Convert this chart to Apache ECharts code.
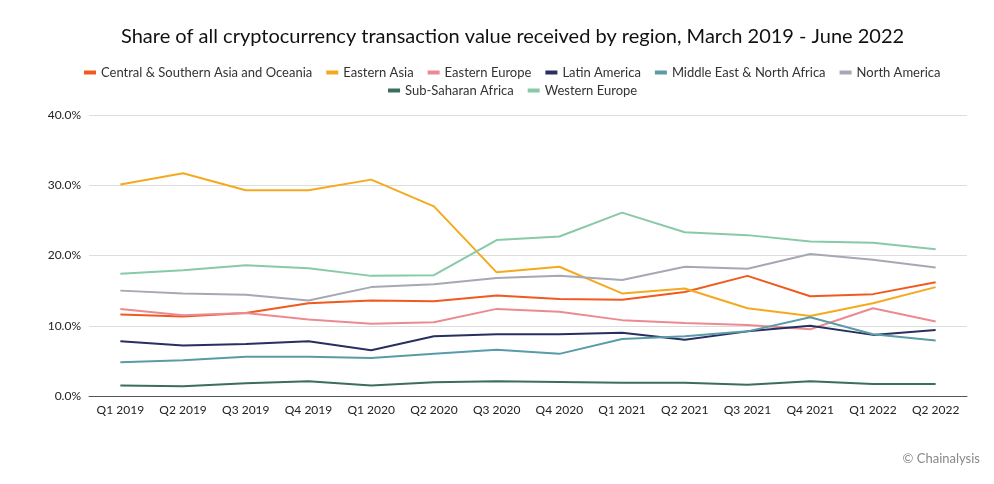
<!DOCTYPE html>
<html>
<head>
<meta charset="utf-8">
<script src="https://cdn.jsdelivr.net/npm/echarts@6/dist/echarts.min.js"></script>
<style>
  html, body { margin: 0; padding: 0; background: #fff; }
  #chart { width: 994px; height: 484px; }
</style>
</head>
<body>
<div id="chart"></div>
<script>
// quarters on the x axis
let quarters = ['Q1 2019','Q2 2019','Q3 2019','Q4 2019','Q1 2020','Q2 2020','Q3 2020',
                'Q4 2020','Q1 2021','Q2 2021','Q3 2021','Q4 2021','Q1 2022','Q2 2022'];

// share of value received, percent
let centralSouthernAsia = [11.6,11.3,11.8,13.2,13.6,13.5,14.3,13.8,13.7,14.8,17.1,14.2,14.5,16.2];
let easternAsia        = [30.1,31.7,29.3,29.3,30.8,27.0,17.6,18.4,14.6,15.3,12.5,11.4,13.2,15.5];
let easternEurope      = [12.4,11.5,11.8,10.9,10.3,10.5,12.4,12.0,10.8,10.4,10.1,9.5,12.5,10.6];
let latinAmerica       = [7.8,7.2,7.4,7.8,6.5,8.5,8.8,8.8,9.0,8.0,9.2,10.0,8.7,9.4];
let mena               = [4.8,5.1,5.6,5.6,5.4,6.0,6.6,6.0,8.1,8.5,9.2,11.2,8.8,7.9];
let northAmerica       = [15.0,14.6,14.4,13.6,15.5,15.9,16.8,17.1,16.5,18.4,18.1,20.2,19.4,18.3];
let subSaharanAfrica   = [1.5,1.4,1.8,2.1,1.5,1.95,2.1,2.0,1.9,1.9,1.6,2.1,1.7,1.7];
let westernEurope      = [17.4,17.9,18.6,18.2,17.1,17.2,22.2,22.7,26.1,23.3,22.9,22.0,21.8,20.9];

let seriesNames = ['Central & Southern Asia and Oceania','Eastern Asia','Eastern Europe','Latin America',
                   'Middle East & North Africa','North America','Sub-Saharan Africa','Western Europe'];
let seriesData = [centralSouthernAsia, easternAsia, easternEurope, latinAmerica,
                  mena, northAmerica, subSaharanAfrica, westernEurope];
let colors = ['#f05a1e','#f5a91f','#ec8a92','#27305f','#5b9ba8','#a6a9b3','#3b6e5c','#88caa7'];

let font = 'Lato';
let myChart = echarts.init(document.getElementById('chart'));

// legend is split in two rows like the original
function legendRow(names, left, top) {
    return {
        data: names,
        top: top,
        left: left,
        icon: 'rect',
        itemWidth: 12,
        itemHeight: 4,
        itemGap: 14,
        textStyle: { fontSize: 13, color: '#333', fontFamily: font }
    };
}

let option = {
    animation: false,
    color: colors,
    textStyle: { fontFamily: font },
    title: {
        text: 'Share of all cryptocurrency transaction value received by region, March 2019 - June 2022',
        left: 116,
        top: 22,
        textStyle: { fontSize: 20, fontWeight: 'normal', color: '#111', fontFamily: font }
    },
    legend: [legendRow(seriesNames.slice(0, 6), 79, 61), legendRow(seriesNames.slice(6), 383, 79)],
    grid: { left: 89, right: 27, top: 115, bottom: 88 },
    xAxis: {
        type: 'category',
        boundaryGap: true,
        data: quarters,
        axisLine: { lineStyle: { color: '#555', width: 1 } },
        axisTick: { show: false },
        axisLabel: { fontSize: 12, color: '#222', margin: 8, fontFamily: font }
    },
    yAxis: {
        type: 'value',
        min: 0,
        max: 40,
        interval: 10,
        axisLabel: {
            fontSize: 12, color: '#222', margin: 8, fontFamily: font,
            formatter: function (v) { return v.toFixed(1) + '%'; }
        },
        splitLine: { lineStyle: { color: '#ddd', width: 1 } }
    },
    graphic: [{
        type: 'text',
        right: 14,
        top: 452,
        style: { text: '\u00a9 Chainalysis', fontSize: 13, fill: '#888', fontFamily: font }
    }],
    series: seriesNames.map(function (name, i) {
        return {
            name: name,
            type: 'line',
            data: seriesData[i],
            symbol: 'none',
            lineStyle: { width: 2 }
        };
    })
};
myChart.setOption(option);
</script>
</body>
</html>
